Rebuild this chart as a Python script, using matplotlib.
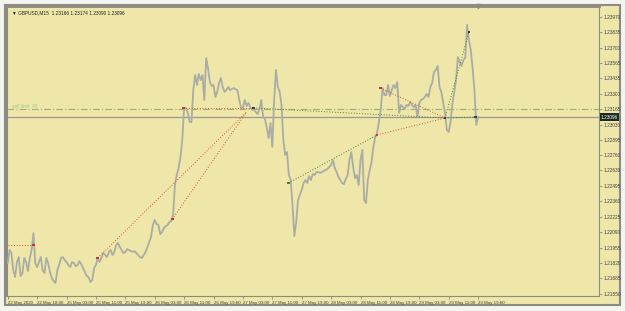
import numpy as np
import matplotlib.pyplot as plt
from matplotlib.patches import Rectangle

# GBPUSD closes: on the hour ...
close_h = [1.21820, 1.21907, 1.21698, 1.21872, 1.21733, 1.21829, 1.21864, 1.22082,
           1.21785, 1.21872, 1.21733, 1.21820, 1.21689, 1.21645, 1.21803, 1.21872,
           1.21829, 1.21785, 1.21820, 1.21803, 1.21811, 1.21741, 1.21698, 1.21671,
           1.21803, 1.21829, 1.21907, 1.21872, 1.21934, 1.21916, 1.21995, 1.21934,
           1.21916, 1.21934, 1.21916, 1.21907, 1.21872, 1.21890, 1.21960, 1.22047,
           1.22196, 1.22152, 1.22091, 1.22143, 1.22178, 1.22240, 1.22589, 1.22746,
           1.23175, 1.23131, 1.23052, 1.23463, 1.23472, 1.23463, 1.23612, 1.23402,
           1.23376, 1.23315, 1.23437, 1.23315, 1.23358, 1.23341, 1.23341, 1.23245,
           1.23175, 1.23192, 1.23183, 1.23166, 1.23122, 1.23245, 1.23079, 1.22912,
           1.22834, 1.23507, 1.23315, 1.22895, 1.22790, 1.22545, 1.22056, 1.22371,
           1.22458, 1.22545, 1.22580, 1.22598, 1.22615, 1.22607, 1.22624, 1.22642,
           1.22677, 1.22650, 1.22572, 1.22519, 1.22554, 1.22720, 1.22659, 1.22589,
           1.22720, 1.22371, 1.22545, 1.22703, 1.22921, 1.23052, 1.23349, 1.23288,
           1.23280, 1.23376, 1.23402, 1.23201, 1.23166, 1.23192, 1.23201, 1.23201,
           1.23218, 1.23253, 1.23297, 1.23358, 1.23489, 1.23542, 1.23315, 1.23131,
           1.22965, 1.23210, 1.23419, 1.23577, 1.23594, 1.23900, 1.23682, 1.23332,
           1.23096]

# ... and on the half hour
close_half = [1.21934, 1.21759, 1.21829, 1.21706, 1.21864, 1.21750, 1.21934, 1.21820,
              1.21829, 1.21759, 1.21864, 1.21741, 1.21663, 1.21759, 1.21864, 1.21846,
              1.21803, 1.21829, 1.21794, 1.21837, 1.21776, 1.21706, 1.21654, 1.21776,
              1.21864, 1.21864, 1.21890, 1.21916, 1.21890, 1.21977, 1.21960, 1.21907,
              1.21942, 1.21925, 1.21925, 1.21890, 1.21864, 1.21916, 1.22004, 1.22152,
              1.22161, 1.22073, 1.22126, 1.22152, 1.22187, 1.22502, 1.22650, 1.22895,
              1.23175, 1.23052, 1.23332, 1.23376, 1.23419, 1.23245, 1.23524, 1.23367,
              1.23271, 1.23393, 1.23358, 1.23332, 1.23332, 1.23349, 1.23332, 1.23175,
              1.23245, 1.23218, 1.23157, 1.23140, 1.23166, 1.23096, 1.23000, 1.23044,
              1.23245, 1.23358, 1.23201, 1.22764, 1.22589, 1.22327, 1.22178, 1.22414,
              1.22519, 1.22519, 1.22545, 1.22589, 1.22615, 1.22615, 1.22633, 1.22659,
              1.22720, 1.22615, 1.22545, 1.22510, 1.22589, 1.22790, 1.22563, 1.22502,
              1.22808, 1.22344, 1.22633, 1.22834, 1.22956, 1.23157, 1.23288, 1.23376,
              1.23332, 1.23349, 1.23131, 1.23183, 1.23201, 1.23227, 1.23183, 1.23096,
              1.23245, 1.23271, 1.23271, 1.23393, 1.23507, 1.23358, 1.23218, 1.22982,
              1.23052, 1.23315, 1.23620, 1.23542, 1.23612, 1.23769, 1.23524, 1.23026]

time_labels = ['22 May 2020', '22 May 18:00', '25 May 03:00', '25 May 11:00',
               '25 May 19:00', '26 May 03:00', '26 May 11:00', '26 May 19:00',
               '27 May 03:00', '27 May 11:00', '27 May 19:00', '28 May 03:00',
               '28 May 11:00', '28 May 19:00', '29 May 03:00', '29 May 11:00',
               '29 May 19:00']

price_ticks = [1.23970, 1.23835, 1.23700, 1.23565, 1.23435, 1.23300, 1.23165,
               1.23030, 1.22895, 1.22760, 1.22630, 1.22495, 1.22360, 1.22225,
               1.22090, 1.21955, 1.21820, 1.21685, 1.21550]

# trade history lines: open bar, open price, close bar, close price, kind
t_open = [0, 24.5, 44.8, 47.8, 66.8, 76.4, 100.5, 101.4, 119, 119]
p_open = [1.21977, 1.21864, 1.22204, 1.23175, 1.23175, 1.22519, 1.22939, 1.23349, 1.23087, 1.23087]
t_close = [7, 65, 65, 66.8, 119, 100.5, 119, 119, 125.5, 127.2]
p_close = [1.21977, 1.23140, 1.23140, 1.23175, 1.23087, 1.22939, 1.23087, 1.23087, 1.23839, 1.23096]
kind = ['sell', 'buy', 'buy', 'sell', 'buy2', 'buy2', 'buy', 'sell', 'buy2', 'buy2']

bid = 1.23096
level = 1.23170

bg = '#EEE7A9'
W, H = 625, 311
fig = plt.figure(figsize=(W / 100, H / 100), dpi=100, facecolor='#F4F4F0')

# chart window frame
fig.patches.append(Rectangle((5 / W, 1 - 305 / H), 615 / W, 300 / H, transform=fig.transFigure,
                             facecolor=bg, edgecolor='#8C8C80', linewidth=1.5, zorder=-10))

ax = fig.add_axes([7 / W, 1 - 296 / H, 592 / W, 290 / H])
ax.set_zorder(5)
ax.set_facecolor(bg)

# interleave hourly and half-hourly closes
n = len(close_h)
xs = np.empty(2 * n - 1)
ys = np.empty(2 * n - 1)
xs[0::2] = np.arange(n)
ys[0::2] = close_h
xs[1::2] = np.arange(n - 1) + 0.5
ys[1::2] = close_half
ax.plot(xs, ys, color='#ABACA4', linewidth=1.3, zorder=3)

ax.axhline(bid, color='#9A9A8E', linewidth=0.9, zorder=2)
ax.axhline(level, color='#9AAE7A', linewidth=0.8, linestyle=(0, (6, 2, 1, 2)), zorder=2)

col = {'sell': '#D8552E', 'buy': '#D8552E', 'buy2': '#4E7F2A'}
for a, pa, b, pb, k in zip(t_open, p_open, t_close, p_close, kind):
    ax.plot([a, b], [pa, pb], color=col[k], linewidth=0.7, linestyle=(0, (1, 1.8)), zorder=4)

dot_t = [7, 24.5, 44.8, 47.8, 66.8, 76.4, 100.5, 101.4, 119, 125.5, 127.2]
dot_p = [1.21977, 1.21864, 1.22204, 1.23175, 1.23175, 1.22519, 1.22939, 1.23349, 1.23087, 1.23839, 1.23096]
dot_c = ['#C03A2A', '#C03A2A', '#C03A2A', '#C03A2A', '#404030', '#3F8A3A', '#C04060', '#C03A2A',
         '#404030', '#404030', '#404030']
ax.scatter(dot_t, dot_p, s=4, c=dot_c, marker='s', zorder=5, linewidths=0)

ax.set_xlim(-0.2, 160.9)
ax.set_ylim(1.21532, 1.24066)

ax.yaxis.tick_right()
ax.set_yticks(price_ticks)
ax.set_yticklabels([f'{v:.5f}' for v in price_ticks])
ax.set_xticks(np.arange(0, 8 * len(time_labels), 8))
ax.set_xticklabels(time_labels, ha='left')
ax.tick_params(axis='both', colors='#8C8C80', labelcolor='#404040',
               length=2, width=0.6, pad=1.5)
ax.tick_params(axis='x', labelsize=3.15)
ax.tick_params(axis='y', labelsize=3.4)
for lab in ax.get_xticklabels() + ax.get_yticklabels():
    lab.set_fontfamily('Liberation Sans')
for s in ax.spines.values():
    s.set_color('#8C8C80')
    s.set_linewidth(0.8)
ax.spines['top'].set_linewidth(2)
ax.spines['left'].set_linewidth(1.5)

# current bid label
ax.text(1.003, bid, '1.23096', transform=ax.get_yaxis_transform(), fontsize=3.4,
        family='Liberation Sans', color='white', va='center', ha='left',
        bbox=dict(facecolor='#1E2A22', edgecolor='none', boxstyle='square,pad=0.25'))

# chart header
ax.text(0.008, 0.985, '\u25bc GBPUSD,M15  1.23166 1.23174 1.23090 1.23096', transform=ax.transAxes,
        fontsize=3.4, family='Liberation Sans', color='#202020', va='top', ha='left')
ax.text(0.008, level, 'sell limit  #2', transform=ax.get_yaxis_transform(), fontsize=3.4,
        family='Liberation Sans', color='#A8C090', va='bottom', ha='left')

# chart shift marker
ax.plot([128], [1.24066], marker='v', color='#8C8C80', markersize=3, clip_on=False, zorder=6)

fig.savefig('out.png', dpi=100, facecolor=fig.get_facecolor())
